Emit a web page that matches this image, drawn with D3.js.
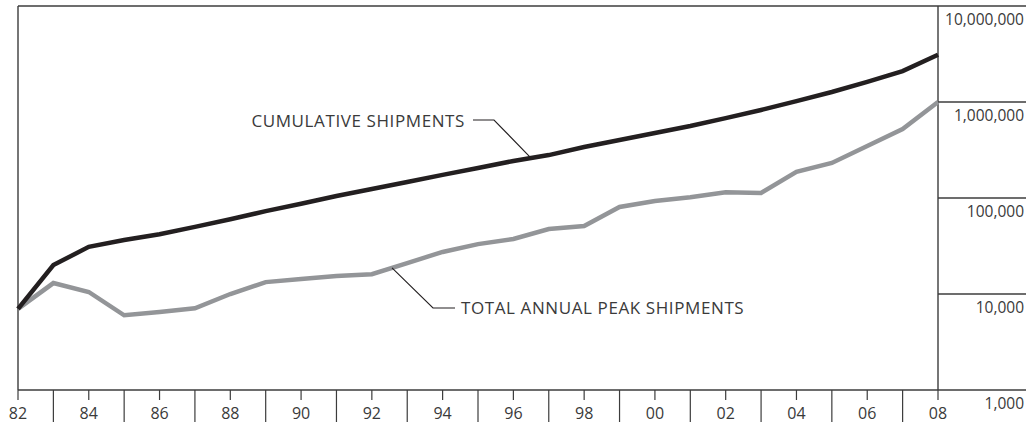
<!DOCTYPE html>
<html><head><meta charset="utf-8">
<script src="https://cdn.jsdelivr.net/npm/d3@7"></script>
<style>
html,body{margin:0;padding:0;background:#fff;}
svg{display:block;}
text{font-family:"Open Sans",sans-serif;fill:#3a3a3a;}
</style></head>
<body>
<svg id="c" width="1026" height="422"></svg>
<script>
const years = [1982,1983,1984,1985,1986,1987,1988,1989,1990,1991,1992,1993,1994,1995,1996,1997,1998,1999,2000,2001,2002,2003,2004,2005,2006,2007,2008];
const cumulative = [7000,20000,31000,36500,42000,50000,60000,73000,87000,105000,124000,147000,174000,205000,243000,280000,340000,402000,475000,562000,680000,825000,1020000,1270000,1620000,2100000,3100000];
const annualPeak = [7000,13000,10500,6000,6500,7100,10000,13300,14300,15400,16100,21000,27400,33100,37400,47500,51100,80600,93000,102000,115000,113000,187000,232000,348000,523000,1000000];
const yTicks = [1000,10000,100000,1000000,10000000];
const xLabelYears = [1982,1984,1986,1988,1990,1992,1994,1996,1998,2000,2002,2004,2006,2008];
const seriesNames = ["CUMULATIVE SHIPMENTS","TOTAL ANNUAL PEAK SHIPMENTS"];

const svg = d3.select("#c");
const L = 18, R = 938, T = 6, B = 390, W = 1026;
const x = d3.scaleLinear().domain([1982,2008]).range([L,R]);
const y = d3.scaleLog().domain([1000,10000000]).range([B,T]);
const axisColor = "#3c3c3c";

// gridlines in label area + top/bottom frame
svg.append("g").selectAll("line").data(yTicks).join("line")
  .attr("x1", d => d === 1000 || d === 10000000 ? L : R).attr("x2", W)
  .attr("y1", d => y(d)).attr("y2", d => y(d))
  .attr("stroke", axisColor).attr("stroke-width", 1.4);
// left frame and right axis
svg.append("line").attr("x1",L).attr("x2",L).attr("y1",T).attr("y2",B).attr("stroke",axisColor).attr("stroke-width",1.4);
svg.append("line").attr("x1",R).attr("x2",R).attr("y1",T).attr("y2",B).attr("stroke",axisColor).attr("stroke-width",1.4);

// y labels
svg.append("g").selectAll("text").data(yTicks).join("text")
  .attr("x", 1024).attr("y", d => y(d) + 19)
  .attr("text-anchor","end").attr("font-size",15.5)
  .text(d => d3.format(",")(d));

// x ticks
svg.append("g").selectAll("line").data(years).join("line")
  .attr("x1", d => x(d)).attr("x2", d => x(d))
  .attr("y1", B).attr("y2", d => (d % 2 === 0) ? B + 10 : 422)
  .attr("stroke", axisColor).attr("stroke-width", 1.2);
svg.append("g").selectAll("text").data(xLabelYears).join("text")
  .attr("x", d => x(d)).attr("y", 418.5)
  .attr("text-anchor","middle").attr("font-size",16)
  .text(d => String(d).slice(2));

// lines
const line = d3.line().x((d,i) => x(years[i])).y(d => y(d));
svg.append("path").datum(annualPeak).attr("d", line)
  .attr("fill","none").attr("stroke","#939598").attr("stroke-width",4.5).attr("stroke-linejoin","miter");
svg.append("path").datum(cumulative).attr("d", line)
  .attr("fill","none").attr("stroke","#231f20").attr("stroke-width",4.5).attr("stroke-linejoin","miter");

// annotations
function interp(arr, yr){
  const i = Math.floor(yr - 1982), f = yr - 1982 - i;
  const a = Math.log10(arr[i]), b = Math.log10(arr[i+1]);
  return Math.pow(10, a + (b-a)*f);
}
{
  const ax = 1996.5, px = x(ax), py = y(interp(cumulative, ax));
  svg.append("polyline").attr("points", `${px},${py} 494,120 473,120`)
    .attr("fill","none").attr("stroke","#231f20").attr("stroke-width",1.1);
  svg.append("text").attr("x",465).attr("y",127).attr("text-anchor","end").attr("font-size",17)
    .attr("letter-spacing",0.6).text(seriesNames[0]);
}
{
  const ax = 1992.57, px = x(ax), py = y(interp(annualPeak, ax));
  svg.append("polyline").attr("points", `${px},${py} 433,308 455,308`)
    .attr("fill","none").attr("stroke","#231f20").attr("stroke-width",1.1);
  svg.append("text").attr("x",461).attr("y",314).attr("text-anchor","start").attr("font-size",17)
    .attr("letter-spacing",0.6).text(seriesNames[1]);
}
</script>
</body></html>
